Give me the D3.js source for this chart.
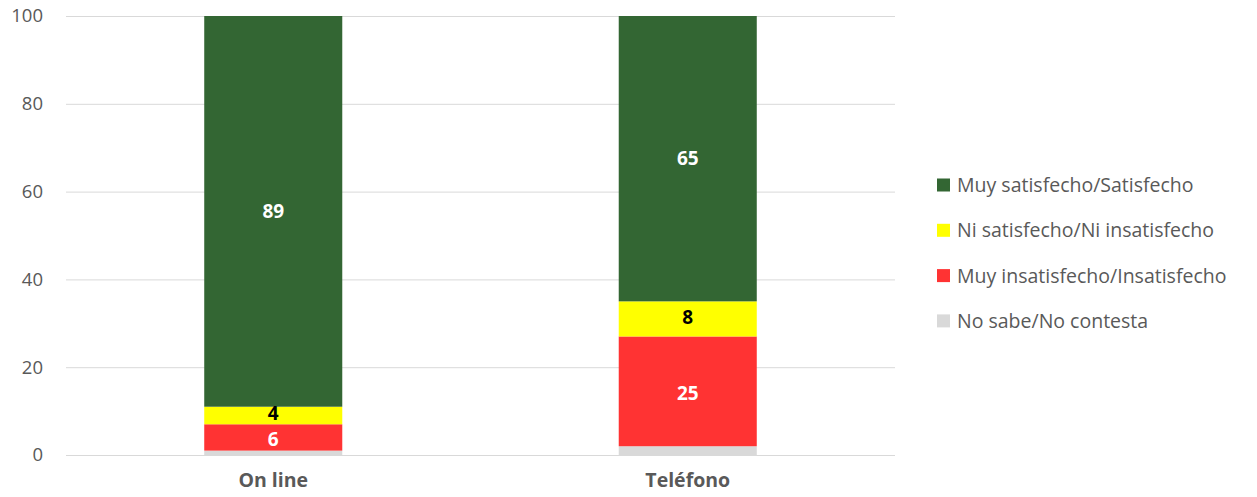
<!DOCTYPE html>
<html>
<head>
<meta charset="utf-8">
<script src="https://cdn.jsdelivr.net/npm/d3@7"></script>
<style>
  body { margin: 0; background: #fff; }
  text { font-family: "Open Sans", Lato, sans-serif; }
</style>
</head>
<body>
<script>
// chart data
var categories = ["On line", "Teléfono"];
var seriesNames = ["No sabe/No contesta", "Muy insatisfecho/Insatisfecho", "Ni satisfecho/Ni insatisfecho", "Muy satisfecho/Satisfecho"];
var noSabe = [1, 2];
var insatisfecho = [6, 25];
var niNi = [4, 8];
var satisfecho = [89, 65];
var yTicks = [0, 20, 40, 60, 80, 100];

var colors = ["#d9d9d9", "#ff3333", "#ffff00", "#336633"];
var labelColors = [null, "#fff", "#000", "#fff"];
// small nudge so the stacked labels in thin segments don't collide
var labelNudge = [0, 2, -2, 0];

var width = 1257, height = 497;
var margin = { top: 16, right: 362, bottom: 42, left: 66 };

var svg = d3.select("body").append("svg")
    .attr("width", width)
    .attr("height", height);

var rows = categories.map(function(c, i) {
  return { cat: c, s0: noSabe[i], s1: insatisfecho[i], s2: niNi[i], s3: satisfecho[i] };
});
var stack = d3.stack().keys(["s0", "s1", "s2", "s3"]);
var layers = stack(rows);

var x = d3.scaleBand()
    .domain(categories)
    .range([margin.left, width - margin.right])
    .paddingInner(0.667)
    .paddingOuter(0.3335);

var y = d3.scaleLinear()
    .domain([0, 100])
    .range([height - margin.bottom, margin.top]);

// gridlines
svg.append("g")
  .selectAll("line")
  .data(yTicks)
  .enter().append("line")
    .attr("x1", margin.left)
    .attr("x2", width - margin.right)
    .attr("y1", function(d) { return y(d) + 0.5; })
    .attr("y2", function(d) { return y(d) + 0.5; })
    .attr("stroke", "#d9d9d9")
    .attr("stroke-width", 1);

// y axis labels
var yAxis = d3.axisLeft(y).tickValues(yTicks).tickSize(0).tickPadding(0);
var gy = svg.append("g")
    .attr("transform", "translate(" + (margin.left - 23) + ",0)")
    .call(yAxis);
gy.select(".domain").remove();
gy.selectAll("text")
    .attr("font-size", 18.5)
    .attr("fill", "#595959")
    .style("font-family", "'Open Sans', Lato, sans-serif");

// bars
var layerG = svg.append("g").selectAll("g")
  .data(layers)
  .enter().append("g")
    .attr("fill", function(d, i) { return colors[i]; });

layerG.selectAll("rect")
  .data(function(d) { return d; })
  .enter().append("rect")
    .attr("x", function(d) { return x(d.data.cat); })
    .attr("width", x.bandwidth())
    .attr("y", function(d) { return y(d[1]); })
    .attr("height", function(d) { return y(d[0]) - y(d[1]); });

// data labels
layers.forEach(function(layer, i) {
  if (!labelColors[i]) return;
  svg.append("g").selectAll("text")
    .data(layer)
    .enter().append("text")
      .attr("x", function(d) { return x(d.data.cat) + x.bandwidth() / 2; })
      .attr("y", function(d) { return (y(d[0]) + y(d[1])) / 2 + labelNudge[i]; })
      .attr("dy", "0.35em")
      .attr("text-anchor", "middle")
      .attr("font-size", 19)
      .attr("font-weight", "bold")
      .attr("fill", labelColors[i])
      .text(function(d) { return d[1] - d[0]; });
});

// x axis labels
var xAxis = d3.axisBottom(x).tickSize(0).tickPadding(0);
var gx = svg.append("g")
    .attr("transform", "translate(0," + (height - margin.bottom + 18) + ")")
    .call(xAxis);
gx.select(".domain").remove();
gx.selectAll("text")
    .attr("font-size", 19.5)
    .attr("font-weight", "bold")
    .attr("fill", "#595959")
    .style("font-family", "'Open Sans', Lato, sans-serif");

// legend (top to bottom: reverse of stack order)
var legendItems = d3.range(seriesNames.length).reverse();
var legend = svg.append("g").selectAll("g")
  .data(legendItems)
  .enter().append("g")
    .attr("transform", function(d, i) { return "translate(937," + (185 + i * 45.3) + ")"; });

legend.append("rect")
    .attr("x", 0)
    .attr("y", -6.5)
    .attr("width", 13)
    .attr("height", 13)
    .attr("fill", function(d) { return colors[d]; });

legend.append("text")
    .attr("x", 20)
    .attr("dy", "0.36em")
    .attr("font-size", 19.5)
    .attr("fill", "#595959")
    .text(function(d) { return seriesNames[d]; });
</script>
</body>
</html>
